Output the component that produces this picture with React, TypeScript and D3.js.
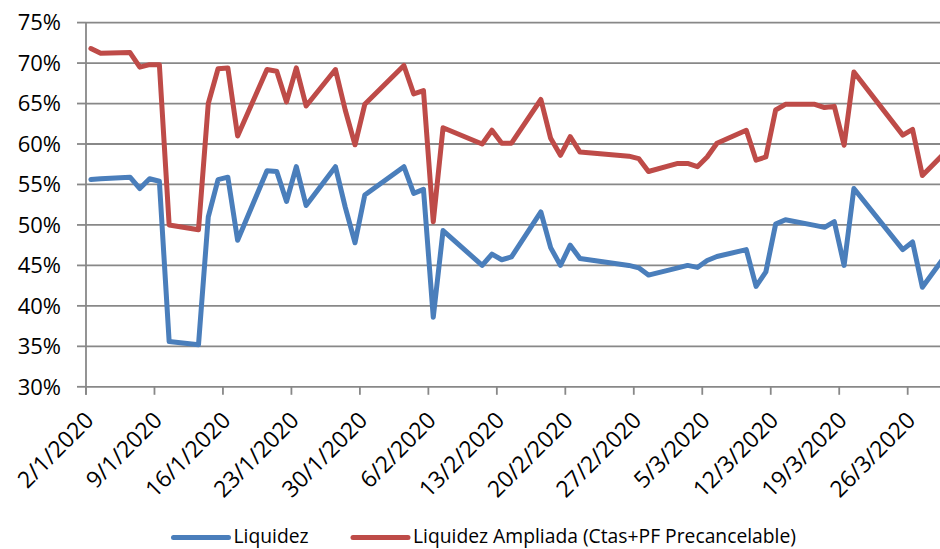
import React, { useEffect, useRef } from 'react';
import * as d3 from 'd3';

// Fechas (día/mes 2020) y valores en %
const dates = [
  '2/1', '3/1', '6/1', '7/1', '8/1', '9/1', '10/1', '13/1', '14/1', '15/1', '16/1', '17/1',
  '20/1', '21/1', '22/1', '23/1', '24/1', '27/1', '28/1', '29/1', '30/1',
  '3/2', '4/2', '5/2', '6/2', '7/2', '11/2', '12/2', '13/2', '14/2',
  '17/2', '18/2', '19/2', '20/2', '21/2', '26/2', '27/2', '28/2',
  '2/3', '3/3', '4/3', '5/3', '6/3', '9/3', '10/3', '11/3', '12/3', '13/3',
  '16/3', '17/3', '18/3', '19/3', '20/3', '25/3', '26/3', '27/3', '30/3'
];

const liquidez = [
  55.6, 55.7, 55.9, 54.5, 55.7, 55.4, 35.6, 35.2, 51.0, 55.6, 55.9, 48.1,
  56.7, 56.6, 52.9, 57.2, 52.4, 57.2, 52.2, 47.8, 53.7,
  57.2, 53.9, 54.4, 38.6, 49.3, 45.0, 46.4, 45.7, 46.05,
  51.6, 47.2, 45.0, 47.5, 45.85, 45.0, 44.7, 43.8,
  44.7, 45.0, 44.75, 45.6, 46.1, 46.95, 42.4, 44.2, 50.1, 50.65,
  49.95, 49.7, 50.4, 45.0, 54.5, 46.95, 47.9, 42.3, 47.3
];

const ampliada = [
  71.8, 71.2, 71.3, 69.5, 69.8, 69.8, 50.0, 49.4, 65.0, 69.3, 69.4, 61.0,
  69.2, 69.0, 65.2, 69.4, 64.7, 69.2, 64.2, 59.9, 64.9,
  69.7, 66.2, 66.6, 50.4, 62.0, 60.0, 61.7, 60.1, 60.1,
  65.5, 60.7, 58.6, 60.9, 59.0, 58.5, 58.2, 56.6,
  57.6, 57.6, 57.2, 58.4, 60.1, 61.7, 58.0, 58.4, 64.2, 64.9,
  64.9, 64.5, 64.65, 59.85, 68.9, 61.1, 61.8, 56.1, 59.8
];

const yTicks = [30, 35, 40, 45, 50, 55, 60, 65, 70, 75];
const xTickLabels = [
  '2/1/2020', '9/1/2020', '16/1/2020', '23/1/2020', '30/1/2020', '6/2/2020', '13/2/2020',
  '20/2/2020', '27/2/2020', '5/3/2020', '12/3/2020', '19/3/2020', '26/3/2020'
];

const seriesNames = ['Liquidez', 'Liquidez Ampliada (Ctas+PF Precancelable)'];
const colors = ['#4A7EBB', '#BE4B48'];

const parseDay = (s: string) => {
  const [d, m] = s.split('/').map(Number);
  return new Date(2020, m - 1, d);
};

const App: React.FC = () => {
  const svgRef = useRef<SVGSVGElement>(null);

  useEffect(() => {
    if (!svgRef.current) return;
    const svg = d3.select(svgRef.current);
    svg.selectAll('*').remove();

    const width = 940;
    const font = 'Open Sans, sans-serif';

    const x = d3.scaleTime()
      .domain([new Date(2020, 0, 2), new Date(2020, 2, 31)])
      .range([86, 956.6]);

    const y = d3.scaleLinear()
      .domain([30, 75])
      .range([386.8, 22.6]);

    const gridColor = '#888888';

    // grid
    svg.append('g')
      .selectAll('line')
      .data(yTicks)
      .enter().append('line')
      .attr('x1', 86)
      .attr('x2', width)
      .attr('y1', d => y(d))
      .attr('y2', d => y(d))
      .attr('stroke', gridColor)
      .attr('stroke-width', 1.8);

    // y axis
    svg.append('line')
      .attr('x1', 86).attr('x2', 86)
      .attr('y1', y(75)).attr('y2', y(30) + 8)
      .attr('stroke', gridColor).attr('stroke-width', 1.8);

    svg.append('g')
      .selectAll('line')
      .data(yTicks)
      .enter().append('line')
      .attr('x1', 77).attr('x2', 86)
      .attr('y1', d => y(d)).attr('y2', d => y(d))
      .attr('stroke', gridColor).attr('stroke-width', 1.8);

    svg.append('g')
      .selectAll('text')
      .data(yTicks)
      .enter().append('text')
      .attr('x', 61)
      .attr('y', d => y(d))
      .attr('dy', '0.35em')
      .attr('text-anchor', 'end')
      .attr('font-family', font)
      .attr('font-size', 22)
      .attr('fill', '#000')
      .text(d => `${d}%`);

    // x ticks
    const tickDates = xTickLabels.map(s => parseDay(s.slice(0, s.lastIndexOf('/'))));
    svg.append('g')
      .selectAll('line')
      .data(tickDates)
      .enter().append('line')
      .attr('x1', d => x(d)).attr('x2', d => x(d))
      .attr('y1', y(30)).attr('y2', y(30) + 8)
      .attr('stroke', gridColor).attr('stroke-width', 1.8);

    svg.append('g')
      .selectAll('text')
      .data(tickDates)
      .enter().append('text')
      .attr('transform', d => `translate(${x(d) + 9},${y(30) + 35}) rotate(-45)`)
      .attr('text-anchor', 'end')
      .attr('font-family', font)
      .attr('font-size', 23)
      .attr('fill', '#000')
      .text((d, i) => xTickLabels[i]);

    // lines
    const pts = dates.map(parseDay).map(d => new Date(d.getTime() + 12 * 3600 * 1000));
    const line = d3.line<number>()
      .x((d, i) => x(pts[i]))
      .y(d => y(d));

    [liquidez, ampliada].forEach((s, k) => {
      svg.append('path')
        .datum(s)
        .attr('fill', 'none')
        .attr('stroke', colors[k])
        .attr('stroke-width', 5)
        .attr('stroke-linejoin', 'round')
        .attr('stroke-linecap', 'round')
        .attr('d', line);
    });

    // legend
    const legendX = [173.5, 353];
    const legend = svg.append('g');
    seriesNames.forEach((name, k) => {
      legend.append('line')
        .attr('x1', legendX[k]).attr('x2', legendX[k] + 55)
        .attr('y1', 537.5).attr('y2', 537.5)
        .attr('stroke', colors[k]).attr('stroke-width', 5)
        .attr('stroke-linecap', 'round');
      legend.append('text')
        .attr('x', legendX[k] + 60)
        .attr('y', 543)
        .attr('font-family', font)
        .attr('font-size', 19.3)
        .attr('fill', '#000')
        .text(name);
    });
  }, []);

  return (
    <svg
      ref={svgRef}
      width="940"
      height="549"
      style={{ position: 'absolute', left: 0, top: 0, background: '#fff' }}
    />
  );
};

export default App;
